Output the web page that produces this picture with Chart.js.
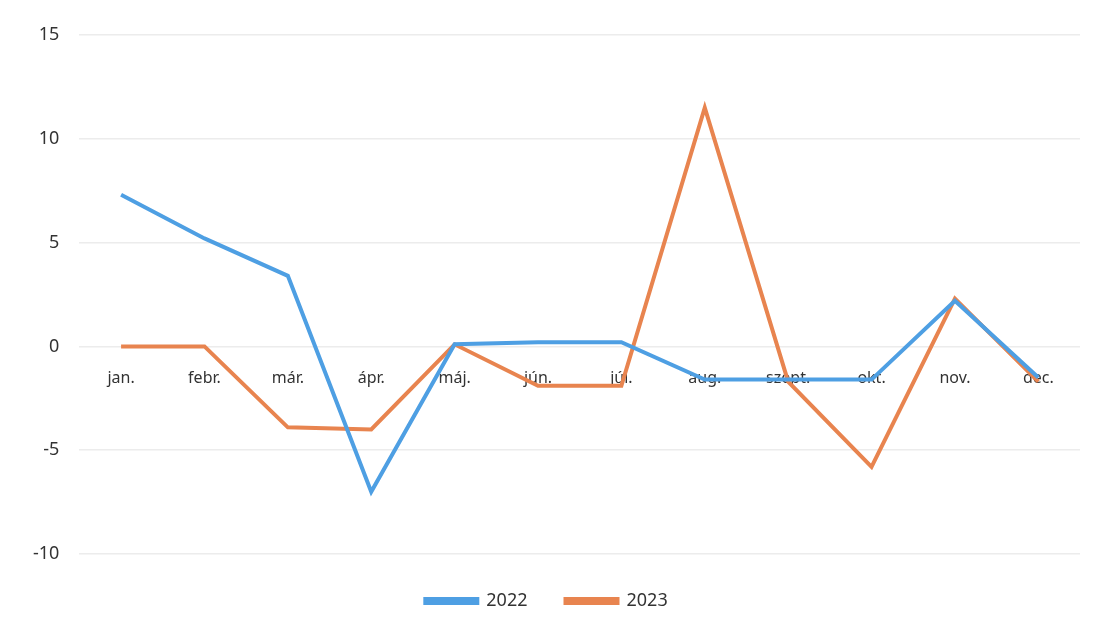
<!DOCTYPE html>
<html>
<head>
<meta charset="utf-8">
<script src="https://cdn.jsdelivr.net/npm/chart.js@4.4.0/dist/chart.umd.min.js"></script>
<style>
  html, body { margin: 0; padding: 0; background: #fff; }
  #wrap { width: 1096px; height: 634px; }
</style>
</head>
<body>
<div id="wrap"><canvas id="myChart" width="1096" height="634"></canvas></div>
<script>
const months = ['jan.', 'febr.', 'már.', 'ápr.', 'máj.', 'jún.', 'júl.', 'aug.', 'szept.', 'okt.', 'nov.', 'dec.'];
const values2022 = [7.3, 5.2, 3.4, -7.0, 0.1, 0.2, 0.2, -1.6, -1.6, -1.6, 2.2, -1.5];
const values2023 = [0.0, 0.0, -3.9, -4.0, 0.1, -1.9, -1.9, 11.5, -1.7, -5.8, 2.3, -1.7];
const yTicks = [-10, -5, 0, 5, 10, 15];

document.addEventListener('DOMContentLoaded', () => {
    const ctx = document.getElementById('myChart').getContext('2d');

    new Chart(ctx, {
        type: 'line',
        data: {
            labels: months,
            datasets: [
                {
                    label: '2022',
                    data: values2022,
                    borderColor: '#4e9fe3',
                    backgroundColor: '#4e9fe3',
                    borderWidth: 4,
                    pointRadius: 0,
                    tension: 0
                },
                {
                    label: '2023',
                    data: values2023,
                    borderColor: '#e8844f',
                    backgroundColor: '#e8844f',
                    borderWidth: 4,
                    pointRadius: 0,
                    tension: 0
                }
            ]
        },
        options: {
            responsive: false,
            animation: false,
            layout: {
                padding: { top: 35, left: 13, right: 16, bottom: 14 }
            },
            plugins: {
                tooltip: { enabled: false },
                legend: {
                    position: 'bottom',
                    labels: {
                        boxWidth: 52,
                        boxHeight: 4,
                        padding: 38,
                        color: '#333',
                        font: { family: 'Noto Sans', size: 18 }
                    }
                }
            },
            scales: {
                x: {
                    position: { y: 0 },
                    offset: true,
                    grid: { display: false },
                    border: { display: false },
                    ticks: {
                        padding: 14,
                        color: '#333',
                        font: { family: 'Noto Sans', size: 16 }
                    }
                },
                y: {
                    min: -10,
                    max: 15,
                    afterBuildTicks: axis => {
                        axis.ticks = yTicks.map(v => ({ value: v }));
                    },
                    grid: { color: '#ececec', lineWidth: 1.5, drawTicks: false },
                    border: { display: false },
                    ticks: {
                        padding: 20,
                        color: '#333',
                        font: { family: 'Noto Sans', size: 18 }
                    }
                }
            }
        }
    });
});
</script>
</body>
</html>
